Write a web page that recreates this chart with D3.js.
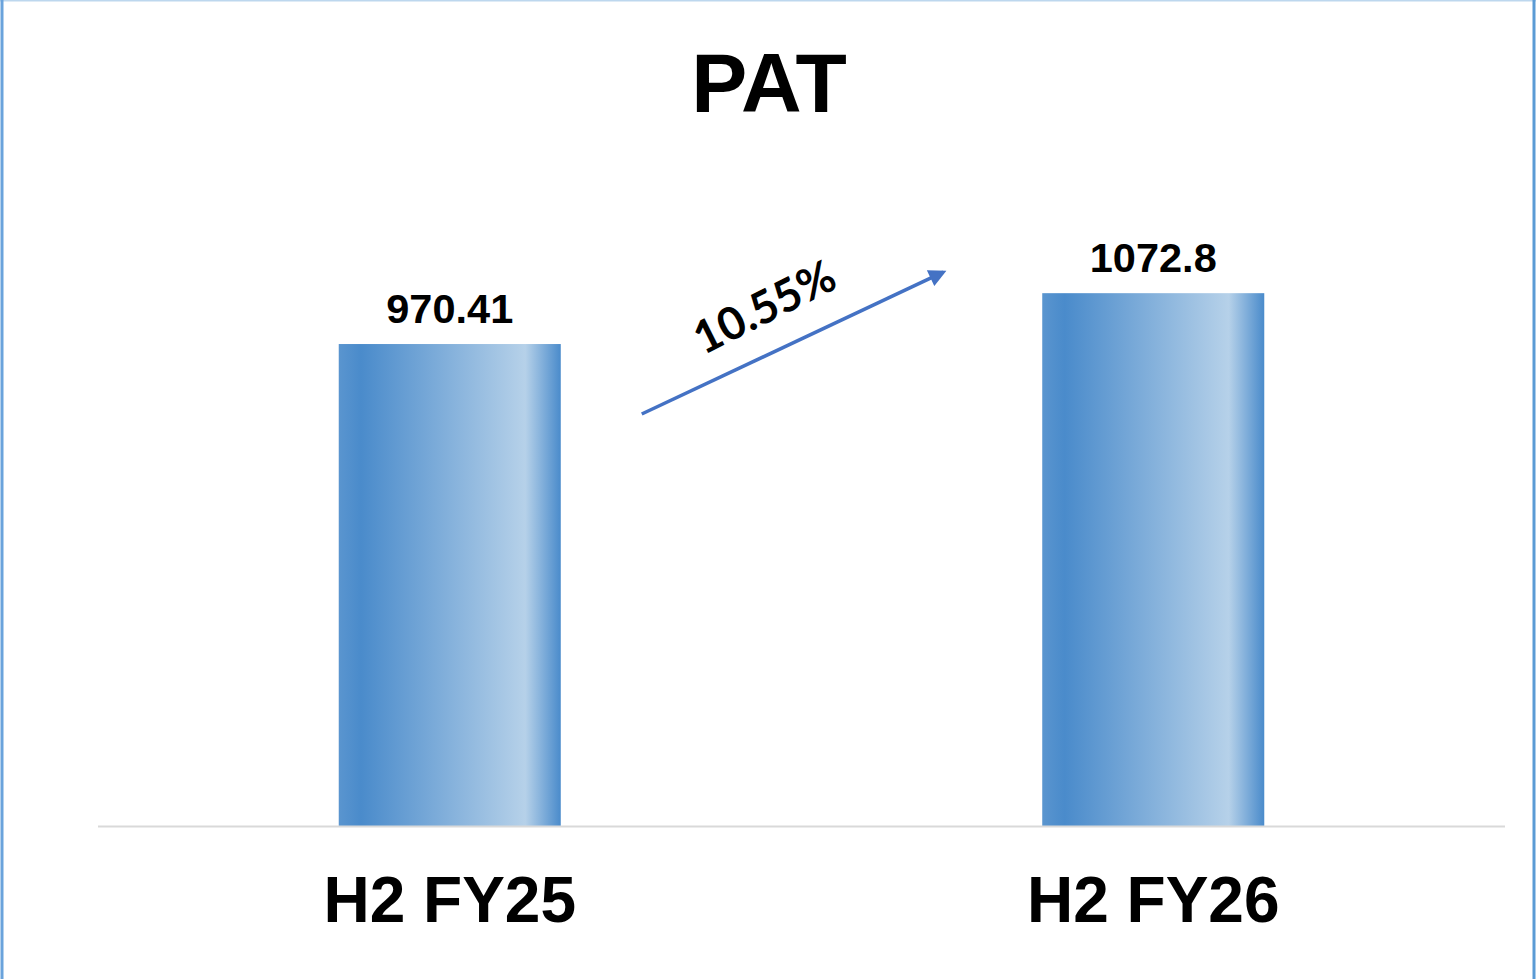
<!DOCTYPE html>
<html>
<head>
<meta charset="utf-8">
<script src="https://cdn.jsdelivr.net/npm/d3@7"></script>
<style>
  html, body { margin: 0; padding: 0; background: #fff; }
  svg { display: block; }
</style>
</head>
<body>
<div id="chart-area"></div>
<script>
const WIDTH = 1536;
const HEIGHT = 979;

const title = 'PAT';
const categories = ['H2 FY25', 'H2 FY26'];
const values = [970.41, 1072.8];
const valueLabels = ['970.41', '1072.8'];
const growthLabel = '10.55%';

main();

function main() {
  const svg = prepareGraph();
  showGraph(svg);
}

function prepareGraph() {
  const svg = d3.select('#chart-area').append('svg')
    .attr('width', WIDTH)
    .attr('height', HEIGHT);

  const defs = svg.append('defs');
  const grad = defs.append('linearGradient')
    .attr('id', 'barGrad')
    .attr('x1', '0%').attr('x2', '100%')
    .attr('y1', '0%').attr('y2', '0%');
  [
    ['0%', '#5a95cf'],
    ['10%', '#4a8bcb'],
    ['84%', '#b6d1e9'],
    ['100%', '#4a8bcb'],
  ].forEach(([o, c]) => grad.append('stop').attr('offset', o).attr('stop-color', c));

  defs.append('marker')
    .attr('id', 'arrowHead')
    .attr('viewBox', '0 0 10 10')
    .attr('refX', 8).attr('refY', 5)
    .attr('markerWidth', 5.5).attr('markerHeight', 5)
    .attr('orient', 'auto')
    .append('path')
    .attr('d', 'M0,0 L10,5 L0,10 z')
    .attr('fill', '#4472c4');

  // frame
  svg.append('rect')
    .attr('x', 0).attr('y', 0)
    .attr('width', WIDTH).attr('height', HEIGHT)
    .attr('fill', '#fff');
  svg.append('line')
    .attr('x1', 0).attr('x2', WIDTH).attr('y1', 0.5).attr('y2', 0.5)
    .attr('stroke', '#bdd7ee').attr('stroke-width', 2);
  svg.append('line')
    .attr('x1', 2).attr('x2', 2).attr('y1', 0).attr('y2', HEIGHT)
    .attr('stroke', '#6aa3dc').attr('stroke-width', 3);
  svg.append('line')
    .attr('x1', 1534).attr('x2', 1534).attr('y1', 0).attr('y2', HEIGHT)
    .attr('stroke', '#5b9bd5').attr('stroke-width', 3);
  return svg;
}

function showGraph(svg) {
  const scaleX = d3.scaleBand()
    .domain(categories)
    .range([98, 1505])
    .paddingInner(0.6844)
    .paddingOuter(0.3422);
  const scaleY = d3.scaleLinear()
    .domain([0, 1200])
    .range([826, 230]);

  const g = svg.append('g');

  g.append('text')
    .attr('x', 769)
    .attr('y', 112)
    .attr('text-anchor', 'middle')
    .attr('font-family', '"Liberation Sans", Arial, sans-serif')
    .attr('font-weight', 'bold')
    .attr('font-size', 84)
    .attr('fill', '#000')
    .text(title);

  g.selectAll('rect.bar')
    .data(values)
    .enter()
    .append('rect')
    .attr('class', 'bar')
    .attr('x', (d, i) => scaleX(categories[i]))
    .attr('y', d => scaleY(d))
    .attr('width', scaleX.bandwidth())
    .attr('height', d => scaleY(0) - scaleY(d))
    .attr('fill', 'url(#barGrad)');

  g.selectAll('text.value')
    .data(values)
    .enter()
    .append('text')
    .attr('class', 'value')
    .attr('x', (d, i) => scaleX(categories[i]) + scaleX.bandwidth() / 2)
    .attr('y', d => scaleY(d) - 21)
    .attr('text-anchor', 'middle')
    .attr('font-family', '"Liberation Sans", Arial, sans-serif')
    .attr('font-weight', 'bold')
    .attr('font-size', 41.5)
    .attr('fill', '#000')
    .text((d, i) => valueLabels[i]);

  // baseline
  g.append('line')
    .attr('x1', 98).attr('x2', 1505)
    .attr('y1', scaleY(0) + 0.5).attr('y2', scaleY(0) + 0.5)
    .attr('stroke', '#d9d9d9').attr('stroke-width', 2);

  const axisBottomCall = d3.axisBottom(scaleX).tickSize(0).tickPadding(51);
  const axisG = g.append('g')
    .attr('class', 'x-scale')
    .attr('transform', `translate(0, ${ scaleY(0) })`)
    .call(axisBottomCall);
  axisG.select('.domain').remove();
  axisG.selectAll('text')
    .attr('font-family', '"Liberation Sans", Arial, sans-serif')
    .attr('font-weight', 'bold')
    .attr('font-size', 64)
    .attr('fill', '#000');

  // growth arrow
  const x0 = scaleX(categories[0]) + scaleX.bandwidth() + 81;
  const y0 = scaleY(values[0]) + 70;
  const x1 = scaleX(categories[1]) - 99;
  const y1 = scaleY(values[1]) - 21;
  g.append('line')
    .attr('x1', x0).attr('y1', y0)
    .attr('x2', x1).attr('y2', y1)
    .attr('stroke', '#4472c4')
    .attr('stroke-width', 3.5)
    .attr('marker-end', 'url(#arrowHead)');

  const angle = Math.atan2(y1 - y0, x1 - x0) * 180 / Math.PI;
  g.append('text')
    .attr('transform', `translate(${ (x0 + x1) / 2 - 21 }, ${ (y0 + y1) / 2 - 22 }) rotate(${ angle - 1.5 })`)
    .attr('text-anchor', 'middle')
    .attr('font-family', 'Lato, "Open Sans", sans-serif')
    .attr('font-weight', 'bold')
    .attr('font-size', 45)
    .attr('fill', '#000')
    .text(growthLabel);
}
</script>
</body>
</html>
